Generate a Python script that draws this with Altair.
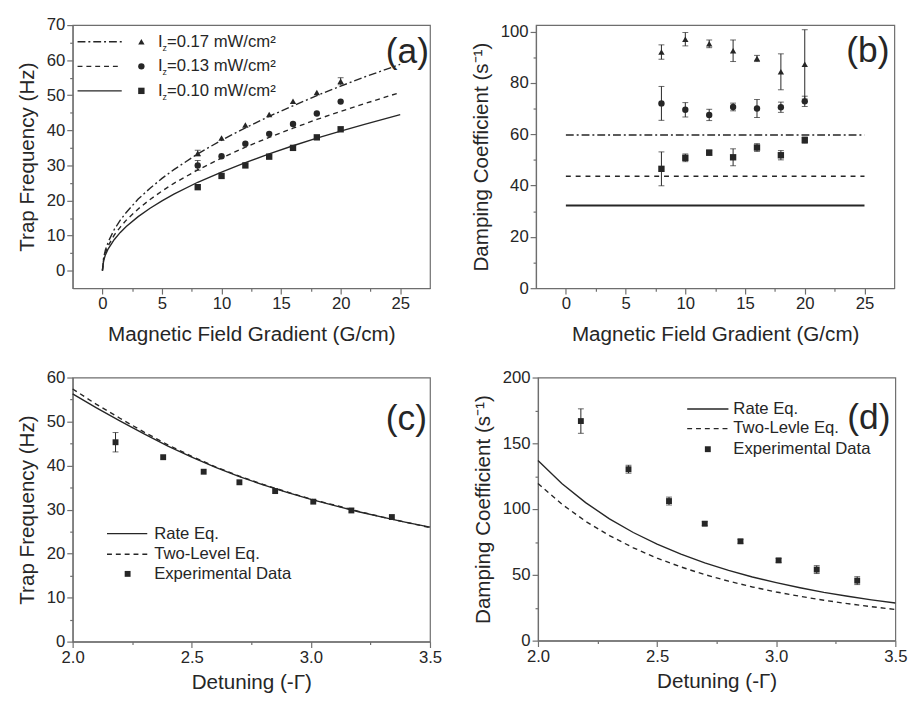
import altair as alt
import pandas as pd

FONT = "Liberation Sans"
INK = "#262626"
FRAME = "#6e6e6e"

# ---------------- data ----------------
# (a) trap frequency vs magnetic field gradient
a_fit_x = [0, 0.1, 0.25, 0.5, 1, 1.5, 2, 3, 4, 5, 6, 8, 10, 12, 14, 16, 18, 20, 22, 25]
a_fit_017 = [0, 3.7, 5.9, 8.3, 11.8, 14.4, 16.6, 20.4, 23.5, 26.3, 28.8, 33.3, 37.2, 40.7, 44.0, 47.0, 49.9, 52.6, 55.2, 58.8]
a_fit_013 = [0, 3.2, 5.1, 7.2, 10.2, 12.4, 14.4, 17.6, 20.3, 22.7, 24.9, 28.7, 32.1, 35.2, 38.0, 40.6, 43.1, 45.4, 47.6, 50.8]
a_fit_010 = [0, 2.8, 4.5, 6.3, 8.9, 10.9, 12.6, 15.4, 17.8, 19.9, 21.8, 25.2, 28.1, 30.8, 33.3, 35.6, 37.8, 39.8, 41.7, 44.5]
grad_x = [8, 10, 12, 14, 16, 18, 20]
a_pts_017 = [33.5, 37.8, 41.5, 44.5, 48.3, 50.8, 54.0]
a_err_017 = [0.8, 0, 0, 0, 0, 0, 1.0]
a_pts_013 = [30.0, 32.6, 36.2, 39.0, 41.8, 44.8, 48.2]
a_err_013 = [1.4, 0, 0, 0, 0, 0, 0]
a_pts_010 = [23.8, 27.0, 30.0, 32.5, 35.0, 38.0, 40.3]
a_err_010 = [0, 0, 0, 0, 0, 0, 0]
a_legend = ["=0.17 mW/cm²", "=0.13 mW/cm²", "=0.10 mW/cm²"]

# (b) damping coefficient vs gradient
b_line_x = [0, 25]
b_theory_017 = 59.7
b_theory_013 = 43.6
b_theory_010 = 32.2
b_pts_017 = [92.0, 97.0, 95.2, 92.5, 89.5, 84.3, 87.2]
b_err_017 = [2.8, 2.6, 1.5, 4.2, 1.2, 7.0, 13.5]
b_pts_013 = [72.0, 69.5, 67.5, 70.6, 70.0, 70.5, 72.8]
b_err_013 = [6.6, 2.8, 2.2, 1.5, 3.5, 2.0, 2.0]
b_pts_010 = [46.5, 50.8, 52.8, 51.0, 54.8, 51.8, 57.7]
b_err_010 = [6.6, 1.5, 1.0, 3.3, 1.5, 1.8, 1.2]

# (c), (d) vs detuning
det_fit_x = [2.0, 2.1, 2.2, 2.3, 2.4, 2.5, 2.6, 2.7, 2.8, 2.9, 3.0, 3.1, 3.2, 3.3, 3.4, 3.5]
c_rate = [56.3, 53.1, 50.1, 47.2, 44.4, 41.9, 39.6, 37.5, 35.6, 33.9, 32.3, 30.9, 29.5, 28.3, 27.1, 26.0]
c_two = [57.4, 53.9, 50.7, 47.6, 44.7, 42.1, 39.7, 37.6, 35.7, 34.0, 32.4, 31.0, 29.6, 28.3, 27.1, 25.9]
d_rate = [137.0, 119.5, 104.9, 92.6, 82.2, 73.3, 65.7, 59.1, 53.4, 48.4, 44.1, 40.2, 36.7, 33.7, 31.0, 28.6]
d_two = [119.5, 103.8, 90.7, 79.8, 70.6, 62.7, 56.0, 50.2, 45.2, 40.8, 37.0, 33.7, 30.7, 28.1, 25.8, 23.7]
det_x = [2.18, 2.38, 2.55, 2.70, 2.85, 3.01, 3.17, 3.34]
c_pts = [45.3, 41.9, 38.6, 36.2, 34.2, 31.8, 29.8, 28.3]
c_err = [2.2, 0, 0, 0, 0, 0, 0, 0]
d_pts = [166.9, 130.3, 106.1, 88.9, 75.5, 61.0, 54.0, 45.6]
d_err = [9.3, 3.0, 3.0, 1.5, 1.5, 1.5, 3.0, 3.0]
cd_legend_c = ["Rate Eq.", "Two-Level Eq.", "Experimental Data"]
cd_legend_d = ["Rate Eq.", "Two-Levle Eq.", "Experimental Data"]

DASHDOT = [8, 3, 2, 3]
DASH = [5, 4]


# ---------------- helpers ----------------
def xy_df(x, y):
    return pd.DataFrame({"x": x, "y": y})


def err_df(x, y, err):
    rows = [(xi, yi - e, yi + e) for xi, yi, e in zip(x, y, err) if e > 0]
    return pd.DataFrame(rows, columns=["x", "lo", "hi"])


def make_axis(title, values, major, fmt, title_pad):
    return alt.Axis(
        title=title, values=values, format=fmt,
        labelExpr=f"({major}) ? datum.label : ''",
        tickSize={"condition": {"test": major, "value": 6}, "value": 3},
        labelOverlap=False, labelFlush=False, titlePadding=title_pad,
    )


class Panel:
    def __init__(self, xdom, ydom, xaxis, yaxis):
        self.xs = alt.Scale(domain=xdom, nice=False, zero=False)
        self.ys = alt.Scale(domain=ydom, nice=False, zero=False)
        self.yaxis = yaxis
        self.X = alt.X("x:Q", scale=self.xs, axis=xaxis)
        self.Y = alt.Y("y:Q", scale=self.ys, axis=yaxis)
        self.layers = []

    def line(self, x, y, dash=None, width=1.4):
        kw = dict(color=INK, strokeWidth=width)
        if dash:
            kw["strokeDash"] = dash
        self.layers.append(alt.Chart(xy_df(x, y)).mark_line(**kw).encode(x=self.X, y=self.Y))

    def points(self, x, y, shape, size=42):
        self.layers.append(alt.Chart(xy_df(x, y)).mark_point(
            filled=True, shape=shape, size=size, color=INK, opacity=1
        ).encode(x=self.X, y=self.Y))

    def errbars(self, x, y, err):
        df = err_df(x, y, err)
        if df.empty:
            return
        self.layers.append(alt.Chart(df).mark_rule(color=INK, strokeWidth=1).encode(
            x=self.X, y=alt.Y("lo:Q", scale=self.ys, axis=self.yaxis), y2="hi:Q"))
        for f in ["lo", "hi"]:
            self.layers.append(alt.Chart(df).mark_tick(
                orient="horizontal", size=6, thickness=1, color=INK
            ).encode(x=self.X, y=alt.Y(f"{f}:Q", scale=self.ys, axis=self.yaxis)))

    def add(self, *charts):
        self.layers += list(charts)

    def chart(self, w, h):
        return alt.layer(*self.layers).properties(width=w, height=h)


ONE = pd.DataFrame({"k": [0]})


def leg_line(x1, x2, ypx, dash=None, width=1.4):
    kw = dict(color=INK, strokeWidth=width)
    if dash:
        kw["strokeDash"] = dash
    return alt.Chart(ONE).mark_rule(**kw).encode(
        x=alt.value(x1), x2=alt.value(x2), y=alt.value(ypx))


def leg_point(xpx, ypx, shape, size=42):
    return alt.Chart(ONE).mark_point(filled=True, shape=shape, size=size, color=INK, opacity=1).encode(
        x=alt.value(xpx), y=alt.value(ypx))


def txt(xpx, ypx, s, size=17, align="left", dy=0):
    return alt.Chart(ONE).mark_text(
        text=s, font=FONT, fontSize=size, color=INK, align=align, baseline="middle", dy=dy
    ).encode(x=alt.value(xpx), y=alt.value(ypx))


# ---------------- panel (a) ----------------
grad_ticks = [0, 2.5, 5, 7.5, 10, 12.5, 15, 17.5, 20, 22.5, 25]
pa = Panel([-2.5, 27.5], [-5, 70],
           make_axis("Magnetic Field Gradient (G/cm)", grad_ticks, "datum.value % 5 === 0", "d", 12),
           make_axis("Trap Frequency (Hz)", list(range(0, 71, 5)), "datum.value % 10 === 0", "d", 9))
pa.line(a_fit_x, a_fit_017, DASHDOT)
pa.line(a_fit_x, a_fit_013, DASH)
pa.line(a_fit_x, a_fit_010)
for pts, err, shp in [(a_pts_017, a_err_017, "triangle-up"), (a_pts_013, a_err_013, "circle"),
                      (a_pts_010, a_err_010, "square")]:
    pa.errbars(grad_x, pts, err)
    pa.points(grad_x, pts, shp)
for row, (dash, shp) in enumerate([(DASHDOT, "triangle-up"), (DASH, "circle"), (None, "square")]):
    ypx = 17 + 25 * row
    pa.add(leg_line(5, 50, ypx, dash), leg_point(70, ypx, shp),
           txt(87, ypx, "I"), txt(91.5, ypx, "z", size=9, dy=6), txt(96, ypx, a_legend[row]))
pa.add(txt(363, 28, "(a)", size=36, align="right"))
panel_a = pa.chart(364, 268)

# ---------------- panel (b) ----------------
pb = Panel([-2.5, 27.5], [0, 102.5],
           make_axis("Magnetic Field Gradient (G/cm)", grad_ticks, "datum.value % 5 === 0", "d", 12),
           make_axis("Damping Coefficient (s⁻¹)", list(range(0, 101, 10)), "datum.value % 20 === 0", "d", 9))
pb.line(b_line_x, [b_theory_017] * 2, DASHDOT)
pb.line(b_line_x, [b_theory_013] * 2, [5, 5])
pb.line(b_line_x, [b_theory_010] * 2, None, 2)
for pts, err, shp in [(b_pts_017, b_err_017, "triangle-up"), (b_pts_013, b_err_013, "circle"),
                      (b_pts_010, b_err_010, "square")]:
    pb.errbars(grad_x, pts, err)
    pb.points(grad_x, pts, shp)
pb.add(txt(360, 27, "(b)", size=36, align="right"))
panel_b = pb.chart(365, 268)

# ---------------- panel (c) ----------------
det_ticks = [2.0, 2.25, 2.5, 2.75, 3.0, 3.25, 3.5]
pc = Panel([2.0, 3.5], [0, 60],
           make_axis("Detuning (-Γ)", det_ticks, "(datum.value * 2) % 1 === 0", ".1f", 7),
           make_axis("Trap Frequency (Hz)", list(range(0, 61, 5)), "datum.value % 10 === 0", "d", 9))
pc.line(det_fit_x, c_two, DASH)
pc.line(det_fit_x, c_rate)
pc.errbars(det_x, c_pts, c_err)
pc.points(det_x, c_pts, "square", 36)
pc.add(leg_line(35, 76, 159), txt(83, 159, cd_legend_c[0]),
       leg_line(35, 76, 180, DASH), txt(83, 180, cd_legend_c[1]),
       leg_point(56, 200, "square", 36), txt(83, 200, cd_legend_c[2]),
       txt(361, 42, "(c)", size=36, align="right"))
panel_c = pc.chart(364, 269)

# ---------------- panel (d) ----------------
pd_ = Panel([2.0, 3.5], [0, 200],
            make_axis("Detuning (-Γ)", det_ticks, "(datum.value * 2) % 1 === 0", ".1f", 7),
            make_axis("Damping Coefficient (s⁻¹)", list(range(0, 201, 25)), "datum.value % 50 === 0", "d", 9))
pd_.line(det_fit_x, d_two, DASH)
pd_.line(det_fit_x, d_rate)
pd_.errbars(det_x, d_pts, d_err)
pd_.points(det_x, d_pts, "square", 36)
pd_.add(leg_line(152, 194, 32), txt(199, 32, cd_legend_d[0]),
        leg_line(152, 194, 52, DASH), txt(199, 52, cd_legend_d[1]),
        leg_point(173, 73, "square", 36), txt(199, 73, cd_legend_d[2]),
        txt(359, 41, "(d)", size=36, align="right"))
panel_d = pd_.chart(364, 268)

top = alt.hconcat(panel_a, panel_b, spacing=40)
bottom = alt.hconcat(panel_c, panel_d, spacing=30)

chart = alt.vconcat(top, bottom, spacing=23).configure_axis(
    labelFont=FONT, labelFontSize=17, labelColor=INK,
    titleFont=FONT, titleFontSize=21, titleFontWeight="normal", titleColor=INK,
    domainColor=FRAME, tickColor=FRAME, domainWidth=1.2, tickWidth=1.2,
    grid=False, labelPadding=2,
).configure_view(stroke=FRAME, strokeWidth=1.2).configure_text(font=FONT).properties(
    padding={"left": 16, "top": 9, "right": 5, "bottom": 5}, background="white"
)

chart.save("out.html", embed_options={"renderer": "svg", "actions": False})
